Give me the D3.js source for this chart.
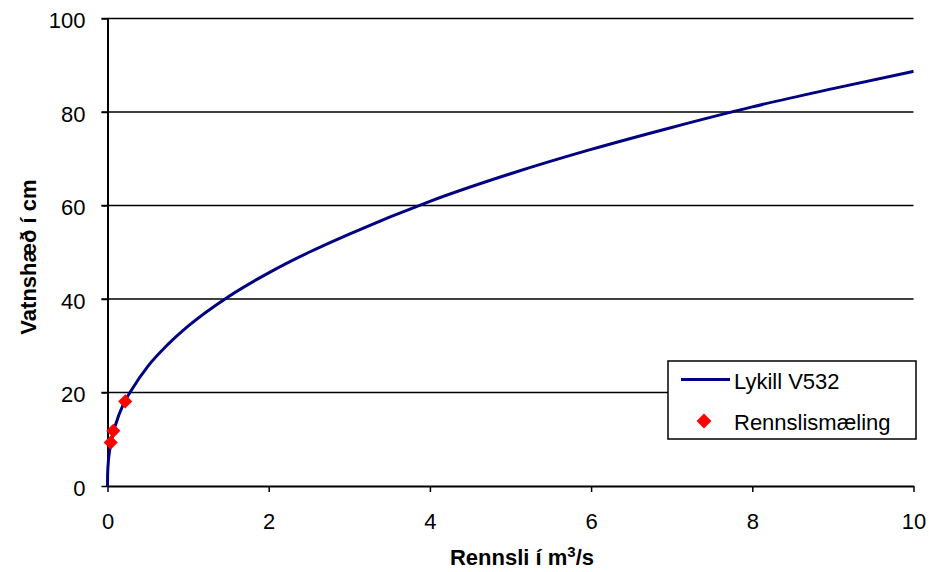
<!DOCTYPE html>
<html>
<head>
<meta charset="utf-8">
<script src="https://cdn.jsdelivr.net/npm/d3@7"></script>
<style>
  body { margin: 0; background: #fff; }
  text { font-family: Arial, "Liberation Sans", sans-serif; }
</style>
</head>
<body>
<div id="chart"></div>
<script>
// Rating curve (Lykill V532): discharge and stage
const curveQ = [0, 0.001, 0.003, 0.01, 0.03, 0.05, 0.1, 0.2, 0.3, 0.5, 0.75, 1, 1.5, 2, 2.5, 3, 4, 5, 6, 7, 8, 9, 10];
const curveH = [0, 2.0, 3.1, 5.1, 8.0, 9.9, 13.1, 17.6, 20.6, 25.6, 30.3, 34.2, 40.5, 45.6, 50.0, 53.9, 60.9, 66.8, 72.0, 76.7, 81.1, 85.0, 88.7];

// Discharge measurements (Rennslismæling)
const measQ = [0.04, 0.072, 0.22];
const measH = [9.3, 11.8, 18.1];

const xTicks = [0, 2, 4, 6, 8, 10];
const yTicks = [0, 20, 40, 60, 80, 100];
const legendLabels = ["Lykill V532", "Rennslismæling"];

const width = 929, height = 572;
const margin = { top: 18.5, right: 15.5, bottom: 86, left: 107.5 };
const fontSize = "22px";

const svg = d3.select("#chart").append("svg")
  .attr("width", width)
  .attr("height", height);

const x = d3.scaleLinear().domain([0, 10]).range([margin.left, width - margin.right]);
const y = d3.scaleLinear().domain([0, 100]).range([height - margin.bottom, margin.top]);

// gridlines (extend left as tick marks)
svg.append("g")
  .selectAll("line")
  .data(yTicks.filter(d => d > 0))
  .enter()
  .append("line")
  .attr("x1", x(0) - 6)
  .attr("x2", x(10))
  .attr("y1", d => y(d))
  .attr("y2", d => y(d))
  .attr("stroke", "#000")
  .attr("stroke-width", 1.3);

// y axis
const yAxis = svg.append("g")
  .attr("transform", `translate(${x(0)},0)`)
  .call(d3.axisLeft(y).tickValues(yTicks).tickSize(6).tickPadding(16).tickSizeOuter(0));
yAxis.select(".domain").attr("stroke-width", 2);
yAxis.selectAll(".tick line").attr("stroke-width", 1.5);
yAxis.selectAll("text")
  .attr("dy", "0.42em")
  .style("font-size", fontSize)
  .style("font-family", "Arial, 'Liberation Sans', sans-serif")
  .attr("fill", "#000");

// x axis
const xAxis = svg.append("g")
  .attr("transform", `translate(0,${y(0)})`)
  .call(d3.axisBottom(x).tickValues(xTicks).tickSize(6).tickPadding(25).tickSizeOuter(0));
xAxis.select(".domain").attr("stroke-width", 2);
xAxis.selectAll(".tick line").attr("stroke-width", 1.5);
xAxis.selectAll("text")
  .attr("dy", "0.55em")
  .style("font-size", fontSize)
  .style("font-family", "Arial, 'Liberation Sans', sans-serif")
  .attr("fill", "#000");

// axis titles
const xTitle = svg.append("text")
  .attr("x", 522)
  .attr("y", 565)
  .attr("text-anchor", "middle")
  .style("font-size", fontSize)
  .style("font-weight", "bold");
xTitle.append("tspan").text("Rennsli í m");
xTitle.append("tspan").attr("dy", -8).style("font-size", "15px").text("3");
xTitle.append("tspan").attr("dy", 8).text("/s");

svg.append("text")
  .attr("transform", `translate(36,257) rotate(-90)`)
  .attr("text-anchor", "middle")
  .style("font-size", fontSize)
  .style("font-weight", "bold")
  .text("Vatnshæð í cm");

// rating curve
const curveData = curveQ.map((q, i) => ({ q, h: curveH[i] }));
const line = d3.line()
  .x(d => x(d.q))
  .y(d => y(d.h))
  .curve(d3.curveMonotoneX);

svg.append("path")
  .datum(curveData)
  .attr("d", line)
  .attr("fill", "none")
  .attr("stroke", "#000080")
  .attr("stroke-width", 3);

// measurements
const diamond = d3.symbol().type(d3.symbolSquare).size(100);
svg.append("g")
  .selectAll("path")
  .data(measQ.map((q, i) => ({ q, h: measH[i] })))
  .enter()
  .append("path")
  .attr("d", diamond)
  .attr("transform", d => `translate(${x(d.q)},${y(d.h)}) rotate(45)`)
  .attr("fill", "#ff0000");

// legend
const legend = svg.append("g").attr("transform", "translate(668,361)");
legend.append("rect")
  .attr("width", 248)
  .attr("height", 78)
  .attr("fill", "#fff")
  .attr("stroke", "#000")
  .attr("stroke-width", 1.5);

legend.append("line")
  .attr("x1", 13).attr("x2", 62)
  .attr("y1", 18.5).attr("y2", 18.5)
  .attr("stroke", "#000080")
  .attr("stroke-width", 3);
legend.append("path")
  .attr("d", d3.symbol().type(d3.symbolSquare).size(110))
  .attr("transform", "translate(36,60) rotate(45)")
  .attr("fill", "#ff0000");

legend.selectAll(".lbl")
  .data(legendLabels)
  .enter()
  .append("text")
  .attr("class", "lbl")
  .attr("x", 66)
  .attr("y", (d, i) => 28 + i * 41)
  .style("font-size", fontSize)
  .text(d => d);
</script>
</body>
</html>
